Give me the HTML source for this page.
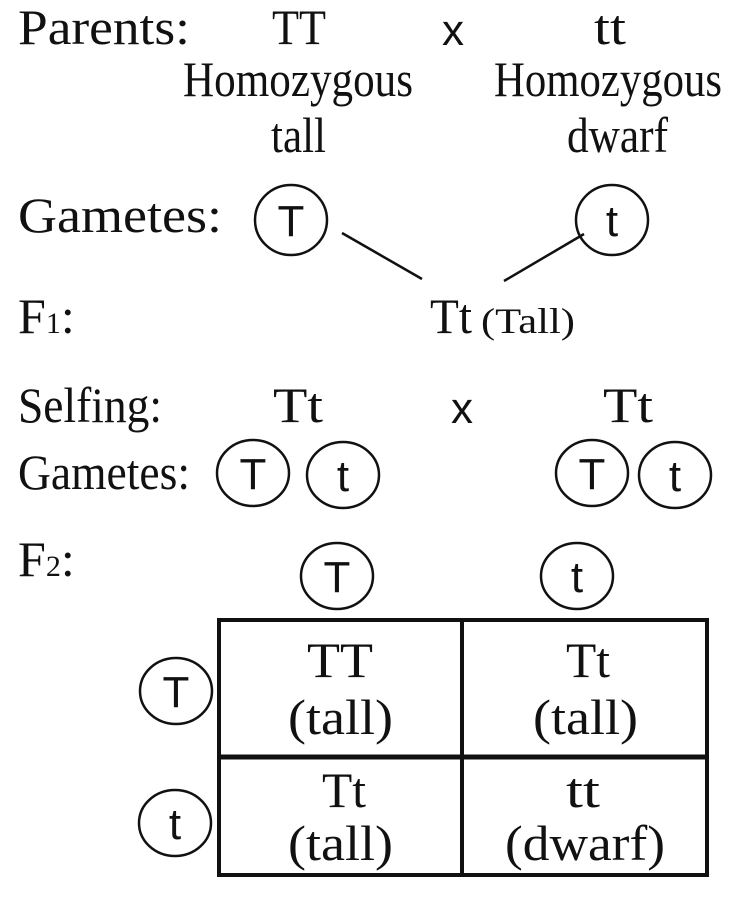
<!DOCTYPE html>
<html><head><meta charset="utf-8"><style>html,body{margin:0;padding:0;background:#fff}svg{display:block}</style></head>
<body>
<svg width="731" height="903" viewBox="0 0 731 903" xmlns="http://www.w3.org/2000/svg">
<g font-family="Liberation Serif, serif" font-size="50" fill="#111" lengthAdjust="spacingAndGlyphs">
<text x="18" y="44" textLength="172" lengthAdjust="spacingAndGlyphs">Parents:</text>
<text x="272" y="44" textLength="54" lengthAdjust="spacingAndGlyphs">TT</text>
<text x="594" y="44" textLength="32" lengthAdjust="spacingAndGlyphs">tt</text>
<text x="183" y="96" textLength="230" lengthAdjust="spacingAndGlyphs">Homozygous</text>
<text x="271" y="152" textLength="55" lengthAdjust="spacingAndGlyphs">tall</text>
<text x="494" y="96" textLength="228" lengthAdjust="spacingAndGlyphs">Homozygous</text>
<text x="567" y="152" textLength="101" lengthAdjust="spacingAndGlyphs">dwarf</text>
<text x="18" y="232" textLength="204" lengthAdjust="spacingAndGlyphs">Gametes:</text>
<text x="18" y="333">F<tspan font-size="30">1</tspan>:</text>
<text x="430" y="333" textLength="42" lengthAdjust="spacingAndGlyphs">Tt</text>
<text x="481" y="333" font-size="36" textLength="94" lengthAdjust="spacingAndGlyphs">(Tall)</text>
<text x="18" y="422" textLength="144" lengthAdjust="spacingAndGlyphs">Selfing:</text>
<text x="273" y="422" textLength="50" lengthAdjust="spacingAndGlyphs">Tt</text>
<text x="603" y="422" textLength="50" lengthAdjust="spacingAndGlyphs">Tt</text>
<text x="18" y="489" textLength="172" lengthAdjust="spacingAndGlyphs">Gametes:</text>
<text x="18" y="576">F<tspan font-size="30">2</tspan>:</text>
<text x="307" y="677" textLength="66" lengthAdjust="spacingAndGlyphs">TT</text>
<text x="288" y="734" textLength="105" lengthAdjust="spacingAndGlyphs">(tall)</text>
<text x="566" y="677" textLength="44" lengthAdjust="spacingAndGlyphs">Tt</text>
<text x="533" y="734" textLength="105" lengthAdjust="spacingAndGlyphs">(tall)</text>
<text x="322" y="807" textLength="44" lengthAdjust="spacingAndGlyphs">Tt</text>
<text x="288" y="860" textLength="105" lengthAdjust="spacingAndGlyphs">(tall)</text>
<text x="566" y="807" textLength="34" lengthAdjust="spacingAndGlyphs">tt</text>
<text x="505" y="860" textLength="160" lengthAdjust="spacingAndGlyphs">(dwarf)</text>
</g>
<g font-family="Liberation Sans, sans-serif" font-size="44" fill="#111" text-anchor="middle">
<text x="453" y="45">x</text>
<text x="462" y="423">x</text>
</g>
<g fill="none" stroke="#111" stroke-width="2.5">
<ellipse cx="291" cy="220" rx="36" ry="35"/>
<ellipse cx="612" cy="220" rx="36" ry="35"/>
<line x1="342" y1="233" x2="422" y2="279"/>
<line x1="584" y1="234" x2="504" y2="281"/>
<ellipse cx="253" cy="473" rx="36" ry="33"/>
<ellipse cx="343" cy="475" rx="36" ry="33"/>
<ellipse cx="592" cy="473" rx="36" ry="33"/>
<ellipse cx="675" cy="475" rx="36" ry="33"/>
<ellipse cx="337" cy="576" rx="36" ry="33"/>
<ellipse cx="577" cy="576" rx="36" ry="33"/>
<ellipse cx="176" cy="691" rx="36" ry="33"/>
<ellipse cx="175" cy="823" rx="36" ry="33"/>
</g>
<g fill="none" stroke="#111" stroke-width="4">
<rect x="219" y="620" width="488" height="255"/>
<line x1="462" y1="620" x2="462" y2="875"/>
<line x1="219" y1="757" x2="707" y2="757" stroke-width="5"/>
</g>
<g font-family="Liberation Sans, sans-serif" font-size="44" fill="#111" text-anchor="middle">
<text x="291" y="236">T</text>
<text x="612" y="236">t</text>
<text x="253" y="489">T</text>
<text x="343" y="491">t</text>
<text x="592" y="489">T</text>
<text x="675" y="491">t</text>
<text x="337" y="592">T</text>
<text x="577" y="592">t</text>
<text x="176" y="707">T</text>
<text x="175" y="839">t</text>
</g>
</svg>
</body></html>
